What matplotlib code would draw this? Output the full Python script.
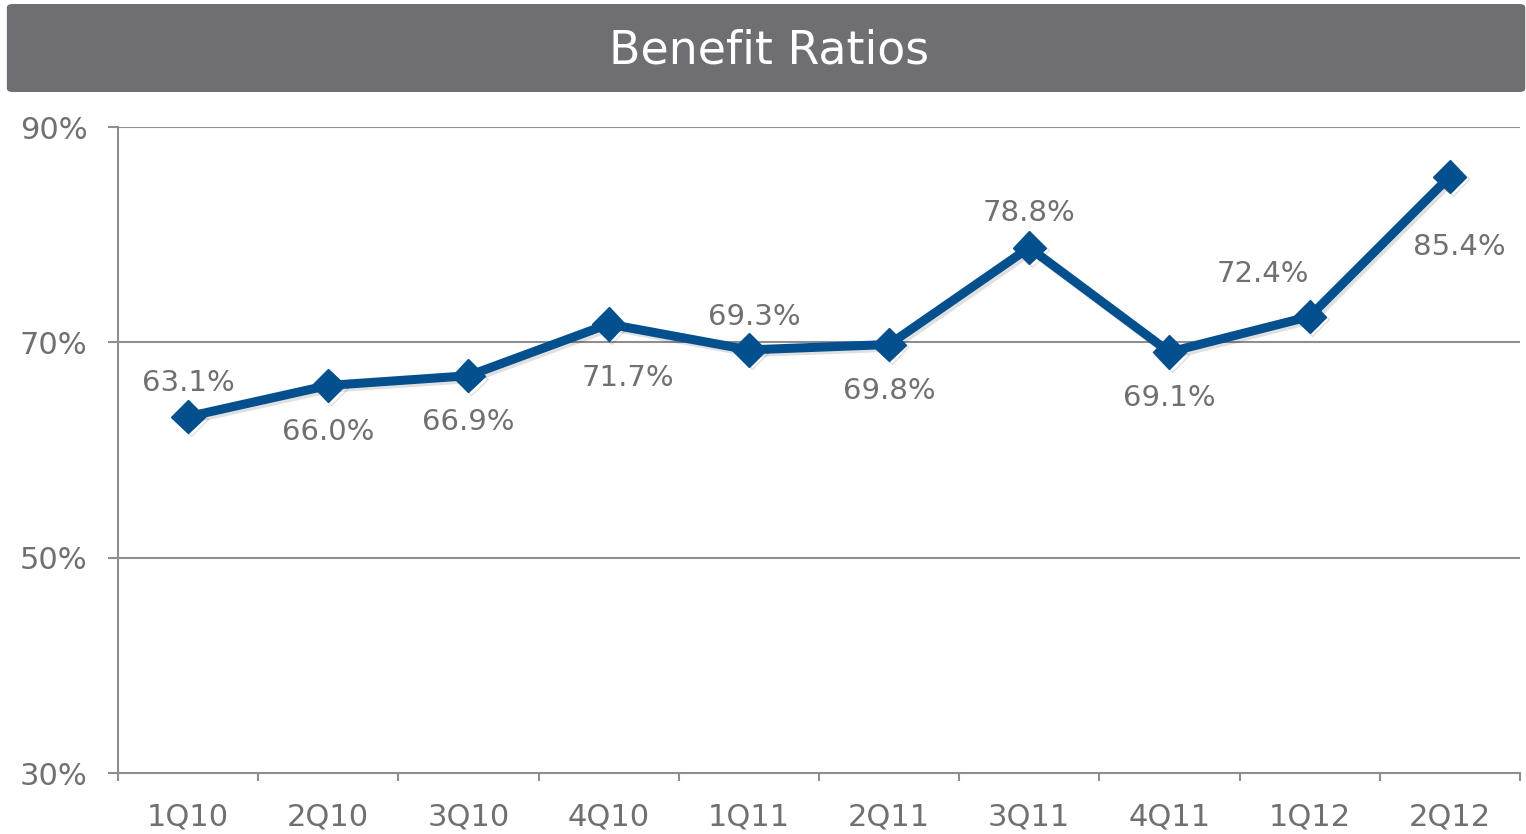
import matplotlib.pyplot as plt
import matplotlib.patheffects as pe
from matplotlib.patches import FancyBboxPatch

quarters = ['1Q10', '2Q10', '3Q10', '4Q10', '1Q11', '2Q11',
            '3Q11', '4Q11', '1Q12', '2Q12']
ratios = [63.1, 66.0, 66.9, 71.7, 69.3, 69.8, 78.8, 69.1, 72.4, 85.4]
yticks = [30, 50, 70, 90]

# label offsets in pixels (dx, dy), converted to points below
label_off = [(0, 34), (0, -47), (0, -46), (19, -54), (5, 33),
             (0, -46), (0, 35), (0, -46), (-47, 43), (10, -70)]

gray_txt = '#707070'
line_col = '#04508f'
grid_col = '#8e8e8e'

plt.rcParams['font.family'] = ['DejaVu Sans']

fig = plt.figure(figsize=(15.26, 8.34), dpi=100)
fig.patch.set_facecolor('white')

# title bar
bar = FancyBboxPatch((0.0045, 0.8897), 0.995, 0.1055,
                     boxstyle='round,pad=0,rounding_size=0.004',
                     transform=fig.transFigure, facecolor='#6f6e73',
                     edgecolor='none')
fig.patches.append(bar)
fig.text(0.504, 0.939, 'Benefit Ratios', color='white', fontsize=33,
         ha='center', va='center')

ax = fig.add_axes([0.0773, 0.0731, 0.9187, 0.7746])
x = list(range(len(quarters)))
ax.plot(x, ratios, color=line_col, lw=6.5, marker='D', ms=17,
        markeredgecolor=line_col, zorder=3,
        path_effects=[pe.SimpleLineShadow(offset=(2, -2), alpha=0.12),
                      pe.Normal()])

for xi, v, (dx, dy) in zip(x, ratios, label_off):
    ax.annotate(f'{v:.1f}%', (xi, v), xytext=(dx / 1.389, dy / 1.389),
                textcoords='offset points', ha='center', va='center',
                fontsize=21, color=gray_txt)

ax.set_xlim(-0.5, len(quarters) - 0.5)
ax.set_ylim(30, 90)
ax.set_yticks(yticks)
ax.set_yticklabels([f'{t}%' for t in yticks])
ax.set_xticks(x)
ax.set_xticklabels(quarters)
ax.set_xticks([i - 0.5 for i in range(len(quarters) + 1)], minor=True)

for t in yticks[1:]:
    ax.axhline(t, color=grid_col, lw=1.5, zorder=1)

for s in ['top', 'right']:
    ax.spines[s].set_visible(False)
for s in ['left', 'bottom']:
    ax.spines[s].set_color(grid_col)
    ax.spines[s].set_linewidth(1.5)

ax.tick_params(axis='y', length=7, width=1.5, color=grid_col, pad=15,
               labelsize=22, labelcolor=gray_txt)
ax.tick_params(axis='x', which='major', length=0, pad=21,
               labelsize=22, labelcolor=gray_txt)
ax.tick_params(axis='x', which='minor', length=6, width=1.5,
               color=grid_col)

fig.savefig('out.png', dpi=100)
